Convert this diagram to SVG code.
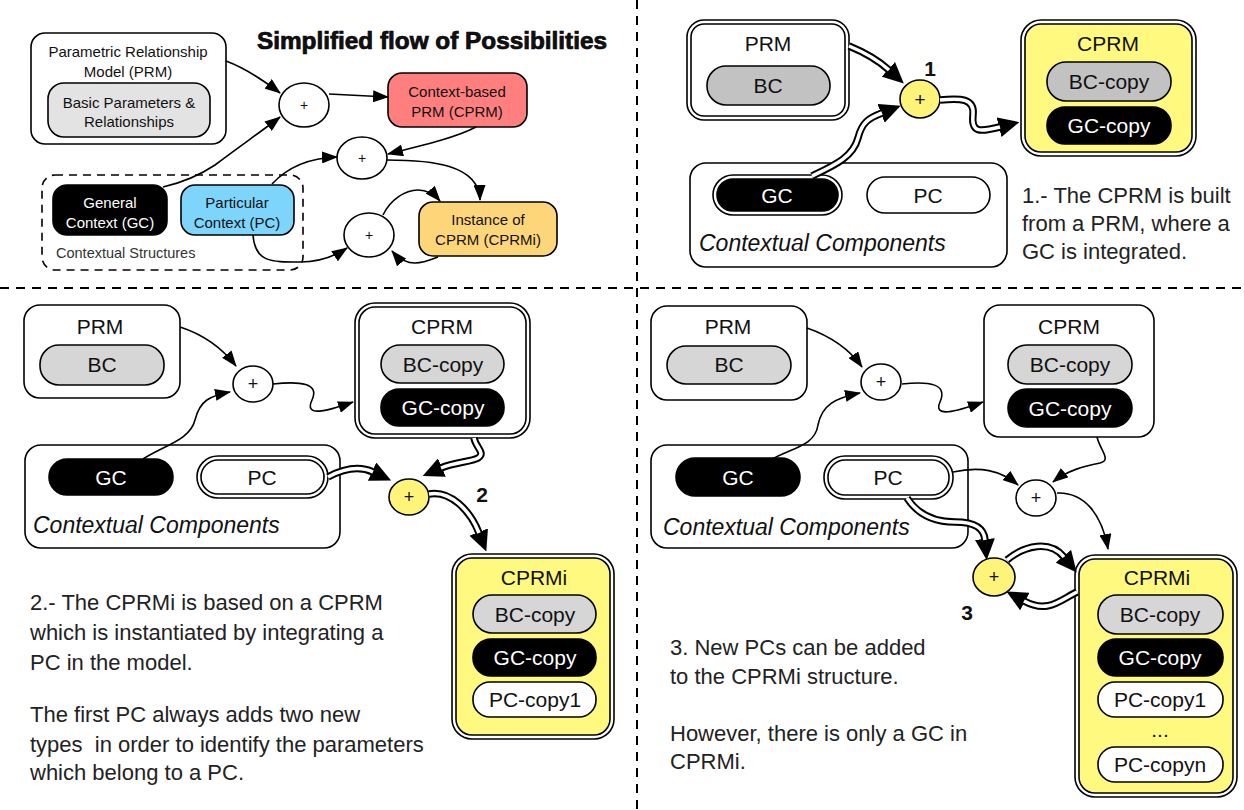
<svg xmlns="http://www.w3.org/2000/svg" width="1244" height="810" viewBox="0 0 1244 810">
<defs>
  <style>
    text { font-family: "Liberation Sans", Arial, sans-serif; fill: #111; }
    .c { text-anchor: middle; }
    .box { fill: #fff; stroke: #000; stroke-width: 1.6; }
    .dash { fill: none; stroke: #000; stroke-width: 1.6; stroke-dasharray: 8 6; }
    .div { fill: none; stroke: #000; stroke-width: 2; stroke-dasharray: 9 7; }
    .blk { fill: #000; stroke: #000; stroke-width: 1.6; }
    .gry { fill: #d6d6d6; stroke: #000; stroke-width: 1.6; }
    .gry2 { fill: #c2c2c2; stroke: #000; stroke-width: 1.6; }
    .yel { fill: #fff97f; stroke: #000; stroke-width: 1.6; }
    .plus { fill: #fff; stroke: #000; stroke-width: 1.6; }
    .plusy { fill: #fff47a; stroke: #000; stroke-width: 1.6; }
    .w { fill: #fff; }
    .lbl { font-size: 21px; }
    .sm { font-size: 15px; }
    .it { font-size: 23px; font-style: italic; }
    .desc { font-size: 22px; fill: #222; }
    .num { font-size: 21px; font-weight: bold; }
    .ln { fill: none; stroke: #000; stroke-width: 1.6; marker-end: url(#ah); }
    .dbo { fill: none; stroke: #000; stroke-width: 7.5; marker-end: url(#ahd); }
    .dbi { fill: none; stroke: #fff; stroke-width: 3.5; }
  </style>
  <marker id="ah" markerUnits="userSpaceOnUse" markerWidth="16" markerHeight="12" refX="15" refY="6" orient="auto">
    <path d="M0,0 L16,6 L0,12 z" fill="#000"/>
  </marker>
  <marker id="ahd" markerUnits="userSpaceOnUse" markerWidth="21" markerHeight="20" refX="1" refY="10" orient="auto">
    <path d="M0,0 L21,10 L0,20 z" fill="#000"/>
  </marker>
</defs>

<rect width="1244" height="810" fill="#fff"/>

<!-- quadrant dividers -->
<g id="dividers">
  <line class="div" x1="637" y1="0" x2="637" y2="810"/>
  <line class="div" x1="0" y1="288" x2="1244" y2="288"/>
</g>

<!-- ===== overview: simplified flow ===== -->
<g id="title">
  <text x="257" y="49" style="font-size:23px;font-weight:bold;stroke:#000;stroke-width:0.7" textLength="350" lengthAdjust="spacingAndGlyphs">Simplified flow of Possibilities</text>
</g>
<g id="ov-prm">
  <rect class="box" x="31" y="33" width="195" height="111" rx="14"/>
  <text class="sm c" x="128" y="57">Parametric Relationship</text>
  <text class="sm c" x="128" y="77">Model (PRM)</text>
  <rect x="48" y="83" width="162" height="54" rx="16" fill="#e3e3e3" stroke="#000" stroke-width="1.6"/>
  <text class="sm c" x="129" y="108">Basic Parameters &amp;</text>
  <text class="sm c" x="129" y="127">Relationships</text>
</g>
<g id="ov-context">
  <rect class="dash" x="42" y="175" width="261" height="95" rx="13"/>
  <text x="56" y="258" style="font-size:14.5px;fill:#333">Contextual Structures</text>
</g>
<g id="ov-gc">
  <rect class="blk" x="53" y="185" width="114" height="50" rx="14"/>
  <text class="sm c w" x="110" y="208">General</text>
  <text class="sm c w" x="110" y="228">Context (GC)</text>
</g>
<g id="ov-pc">
  <rect x="181" y="185" width="113" height="50" rx="14" fill="#7dd5fb" stroke="#000" stroke-width="1.6"/>
  <text class="sm c" x="237" y="208">Particular</text>
  <text class="sm c" x="237" y="228">Context (PC)</text>
</g>
<g id="ov-cprm">
  <rect x="388" y="73" width="139" height="54" rx="14" fill="#ff7f7f" stroke="#000" stroke-width="1.6"/>
  <text class="sm c" x="457" y="97">Context-based</text>
  <text class="sm c" x="457" y="117">PRM (CPRM)</text>
</g>
<g id="ov-cprmi">
  <rect x="419" y="202" width="138" height="54" rx="14" fill="#fed67a" stroke="#000" stroke-width="1.6"/>
  <text class="sm c" x="488" y="225">Instance of</text>
  <text class="sm c" x="488" y="245">CPRM (CPRMi)</text>
</g>
<g id="ov-plus1">
  <ellipse class="plus" cx="304" cy="105" rx="25" ry="22"/>
  <text class="c" x="304" y="110" style="font-size:14px">+</text>
</g>
<g id="ov-plus2">
  <ellipse class="plus" cx="362" cy="158" rx="25" ry="21"/>
  <text class="c" x="362" y="163" style="font-size:14px">+</text>
</g>
<g id="ov-plus3">
  <ellipse class="plus" cx="369" cy="235" rx="25" ry="22"/>
  <text class="c" x="369" y="240" style="font-size:14px">+</text>
</g>

<!-- ===== step 1 ===== -->
<g id="s1-prm">
  <rect class="box" x="687" y="20" width="162" height="100" rx="17"/>
  <rect class="box" x="691" y="24" width="154" height="92" rx="13"/>
  <text class="lbl c" x="768" y="51">PRM</text>
  <rect class="gry2" x="707" y="66" width="123" height="39" rx="19"/>
  <text class="lbl c" x="768" y="93">BC</text>
</g>
<g id="s1-cprm">
  <rect class="box" x="1021" y="20" width="175" height="136" rx="20"/>
  <rect class="yel" x="1025" y="24" width="167" height="128" rx="16"/>
  <text class="lbl c" x="1108" y="51">CPRM</text>
  <rect class="gry2" x="1047" y="62" width="124" height="39" rx="19"/>
  <text class="lbl c" x="1109" y="89">BC-copy</text>
  <rect class="blk" x="1047" y="107" width="124" height="37" rx="18"/>
  <text class="lbl c w" x="1109" y="133">GC-copy</text>
</g>
<g id="s1-context">
  <rect class="box" x="690" y="163" width="317" height="104" rx="16"/>
  <text class="it" x="699" y="251">Contextual Components</text>
</g>
<g id="s1-gc">
  <rect class="box" x="713" y="175" width="129" height="40" rx="20"/>
  <rect class="blk" x="717" y="179" width="121" height="32" rx="16"/>
  <text class="lbl c w" x="777" y="203">GC</text>
</g>
<g id="s1-pc">
  <rect class="box" x="867" y="177" width="123" height="36" rx="18"/>
  <text class="lbl c" x="928" y="203">PC</text>
</g>
<g id="s1-plus">
  <ellipse class="plusy" cx="920" cy="99" rx="20" ry="19"/>
  <text class="c" x="920" y="106" style="font-size:19px">+</text>
  <text class="num c" x="930" y="76">1</text>
</g>
<g id="s1-text">
  <text class="desc" x="1022" y="203">1.- The CPRM is built</text>
  <text class="desc" x="1022" y="231">from a PRM, where a</text>
  <text class="desc" x="1022" y="259">GC is integrated.</text>
</g>

<!-- ===== step 2 ===== -->
<g id="s2-prm">
  <rect class="box" x="24" y="305" width="156" height="93" rx="16"/>
  <text class="lbl c" x="100" y="334">PRM</text>
  <rect class="gry" x="40" y="345" width="124" height="40" rx="19"/>
  <text class="lbl c" x="102" y="372">BC</text>
</g>
<g id="s2-cprm">
  <rect class="box" x="355" y="303" width="175" height="135" rx="20"/>
  <rect class="box" x="359" y="307" width="167" height="127" rx="16"/>
  <text class="lbl c" x="442" y="334">CPRM</text>
  <rect class="gry" x="381" y="345" width="123" height="38" rx="19"/>
  <text class="lbl c" x="443" y="372">BC-copy</text>
  <rect class="blk" x="381" y="389" width="123" height="37" rx="18"/>
  <text class="lbl c w" x="443" y="415">GC-copy</text>
</g>
<g id="s2-context">
  <rect class="box" x="25" y="445" width="315" height="103" rx="16"/>
  <text class="it" x="33" y="533">Contextual Components</text>
</g>
<g id="s2-gc">
  <rect class="blk" x="49" y="459" width="124" height="36" rx="18"/>
  <text class="lbl c w" x="111" y="485">GC</text>
</g>
<g id="s2-pc">
  <rect class="box" x="197" y="456" width="131" height="42" rx="21"/>
  <rect class="box" x="201" y="460" width="123" height="34" rx="17"/>
  <text class="lbl c" x="262" y="485">PC</text>
</g>
<g id="s2-plus0">
  <ellipse class="plus" cx="253" cy="384" rx="20" ry="18"/>
  <text class="c" x="253" y="390" style="font-size:18px">+</text>
</g>
<g id="s2-plus">
  <ellipse class="plusy" cx="409" cy="497" rx="20" ry="18"/>
  <text class="c" x="409" y="503" style="font-size:18px">+</text>
  <text class="num c" x="482" y="502">2</text>
</g>
<g id="s2-cprmi">
  <rect class="box" x="452" y="554" width="162" height="185" rx="20"/>
  <rect class="yel" x="456" y="558" width="154" height="177" rx="16"/>
  <text class="lbl c" x="534" y="585">CPRMi</text>
  <rect class="gry" x="473" y="595" width="123" height="38" rx="19"/>
  <text class="lbl c" x="535" y="622">BC-copy</text>
  <rect class="blk" x="473" y="639" width="123" height="37" rx="18"/>
  <text class="lbl c w" x="535" y="665">GC-copy</text>
  <rect class="box" x="473" y="682" width="123" height="35" rx="17"/>
  <text class="lbl c" x="535" y="707">PC-copy1</text>
</g>
<g id="s2-text">
  <text class="desc" x="30" y="610">2.- The CPRMi is based on a CPRM</text>
  <text class="desc" x="30" y="640">which is instantiated by integrating a</text>
  <text class="desc" x="30" y="670">PC in the model.</text>
  <text class="desc" x="30" y="722">The first PC always adds two new</text>
  <text class="desc" x="30" y="752" xml:space="preserve">types  in order to identify the parameters</text>
  <text class="desc" x="30" y="780">which belong to a PC.</text>
</g>

<!-- ===== step 3 ===== -->
<g id="s3-prm">
  <rect class="box" x="651" y="306" width="156" height="94" rx="16"/>
  <text class="lbl c" x="728" y="334">PRM</text>
  <rect class="gry" x="667" y="346" width="124" height="38" rx="19"/>
  <text class="lbl c" x="729" y="372">BC</text>
</g>
<g id="s3-cprm">
  <rect class="box" x="984" y="305" width="170" height="132" rx="16"/>
  <text class="lbl c" x="1069" y="334">CPRM</text>
  <rect class="gry" x="1008" y="345" width="124" height="39" rx="19"/>
  <text class="lbl c" x="1070" y="372">BC-copy</text>
  <rect class="blk" x="1008" y="389" width="124" height="38" rx="19"/>
  <text class="lbl c w" x="1070" y="416">GC-copy</text>
</g>
<g id="s3-context">
  <rect class="box" x="651" y="445" width="317" height="103" rx="16"/>
  <text class="it" x="663" y="535">Contextual Components</text>
</g>
<g id="s3-gc">
  <rect class="blk" x="676" y="458" width="124" height="38" rx="19"/>
  <text class="lbl c w" x="738" y="485">GC</text>
</g>
<g id="s3-pc">
  <rect class="box" x="824" y="456" width="129" height="43" rx="21"/>
  <rect class="box" x="828" y="460" width="121" height="35" rx="17"/>
  <text class="lbl c" x="888" y="485">PC</text>
</g>
<g id="s3-plus0">
  <ellipse class="plus" cx="881" cy="382" rx="20" ry="18"/>
  <text class="c" x="881" y="388" style="font-size:18px">+</text>
</g>
<g id="s3-plus1">
  <ellipse class="plus" cx="1036" cy="498" rx="20" ry="18"/>
  <text class="c" x="1036" y="504" style="font-size:18px">+</text>
</g>
<g id="s3-plus">
  <ellipse class="plusy" cx="994" cy="577" rx="21" ry="19"/>
  <text class="c" x="994" y="583" style="font-size:18px">+</text>
  <text class="num c" x="967" y="620">3</text>
</g>
<g id="s3-cprmi">
  <rect class="box" x="1075" y="555" width="162" height="242" rx="20"/>
  <rect class="yel" x="1079" y="559" width="154" height="234" rx="16"/>
  <text class="lbl c" x="1157" y="585">CPRMi</text>
  <rect class="gry" x="1098" y="595" width="125" height="39" rx="19"/>
  <text class="lbl c" x="1160" y="622">BC-copy</text>
  <rect class="blk" x="1098" y="639" width="125" height="37" rx="18"/>
  <text class="lbl c w" x="1160" y="665">GC-copy</text>
  <rect class="box" x="1098" y="682" width="125" height="35" rx="17"/>
  <text class="lbl c" x="1160" y="707">PC-copy1</text>
  <text class="lbl c" x="1160" y="737">...</text>
  <rect class="box" x="1098" y="747" width="125" height="35" rx="17"/>
  <text class="lbl c" x="1160" y="772">PC-copyn</text>
</g>
<g id="s3-text">
  <text class="desc" x="670" y="655">3. New PCs can be added</text>
  <text class="desc" x="670" y="684">to the CPRMi structure.</text>
  <text class="desc" x="670" y="741">However, there is only a GC in</text>
  <text class="desc" x="670" y="769">CPRMi.</text>
</g>

<!-- ===== connectors ===== -->
<g id="connectors">
  <!-- overview -->
  <path class="ln" d="M226,61 C245,68 263,80 280,93"/>
  <path class="ln" d="M163,187 C185,182 200,175 215,165 C240,146 262,131 280,117"/>
  <path class="ln" d="M329,94 L388,97"/>
  <path class="ln" d="M476,127 C455,138 420,146 388,154"/>
  <path class="ln" d="M272,184 C285,170 305,158 337,157"/>
  <path class="ln" d="M387,160 C430,160 479,164 480,200"/>
  <path class="ln" d="M383,215 C390,200 405,190 418,190 C427,190 434,194 440,201"/>
  <path class="ln" d="M438,257 C425,262 408,270 392,251"/>
  <path class="ln" d="M253,235 C255,262 270,262 300,262 C320,262 335,256 347,248"/>

  <!-- step 1 (double lines) -->
  <path class="dbo" d="M849,46 C866,53 878,60 889,70"/>
  <path class="dbi" d="M849,46 C866,53 878,60 889,70"/>
  <path class="dbo" d="M812,176 C835,165 853,157 858,138 C862,122 869,118 882,113"/>
  <path class="dbi" d="M812,176 C835,165 853,157 858,138 C862,122 869,118 882,113"/>
  <path class="dbo" d="M940,100 C960,98 975,98 973,115 C971,133 980,132 1000,127"/>
  <path class="dbi" d="M940,100 C960,98 975,98 973,115 C971,133 980,132 1000,127"/>

  <!-- step 2 -->
  <path class="ln" d="M180,327 C205,335 222,348 236,366"/>
  <path class="ln" d="M143,459 C165,445 190,440 195,420 C200,400 210,396 230,392"/>
  <path class="ln" d="M273,384 C300,381 320,383 312,400 C304,417 325,412 353,402"/>
  <path class="dbo" d="M328,477 C345,468 360,466 373,472"/>
  <path class="dbi" d="M328,477 C345,468 360,466 373,472"/>
  <path class="dbo" d="M474,438 C476,448 486,453 478,458 C471,462 455,462 441,468"/>
  <path class="dbi" d="M474,438 C476,448 486,453 478,458 C471,462 455,462 441,468"/>
  <path class="dbo" d="M429,494 C450,490 470,510 479,533"/>
  <path class="dbi" d="M429,494 C450,490 470,510 479,533"/>

  <!-- step 3 -->
  <path class="ln" d="M807,328 C830,336 850,350 862,367"/>
  <path class="ln" d="M772,459 C795,447 815,445 818,425 C822,405 835,398 860,393"/>
  <path class="ln" d="M902,384 C930,381 948,384 940,402 C933,418 955,412 983,402"/>
  <path class="ln" d="M953,472 C980,466 1000,470 1018,485"/>
  <path class="ln" d="M1097,437 C1100,450 1112,460 1100,463 C1085,466 1068,470 1053,482"/>
  <path class="ln" d="M1057,493 C1085,492 1102,515 1108,549"/>
  <path class="dbo" d="M907,498 C918,515 935,522 955,522 C975,522 984,528 985,540"/>
  <path class="dbi" d="M907,498 C918,515 935,522 955,522 C975,522 984,528 985,540"/>
  <path class="dbo" d="M1007,560 C1025,545 1050,540 1064,557"/>
  <path class="dbi" d="M1007,560 C1025,545 1050,540 1064,557"/>
  <path class="dbo" d="M1077,592 C1060,600 1048,614 1024,601"/>
  <path class="dbi" d="M1077,592 C1060,600 1048,614 1024,601"/>
</g>
</svg>
